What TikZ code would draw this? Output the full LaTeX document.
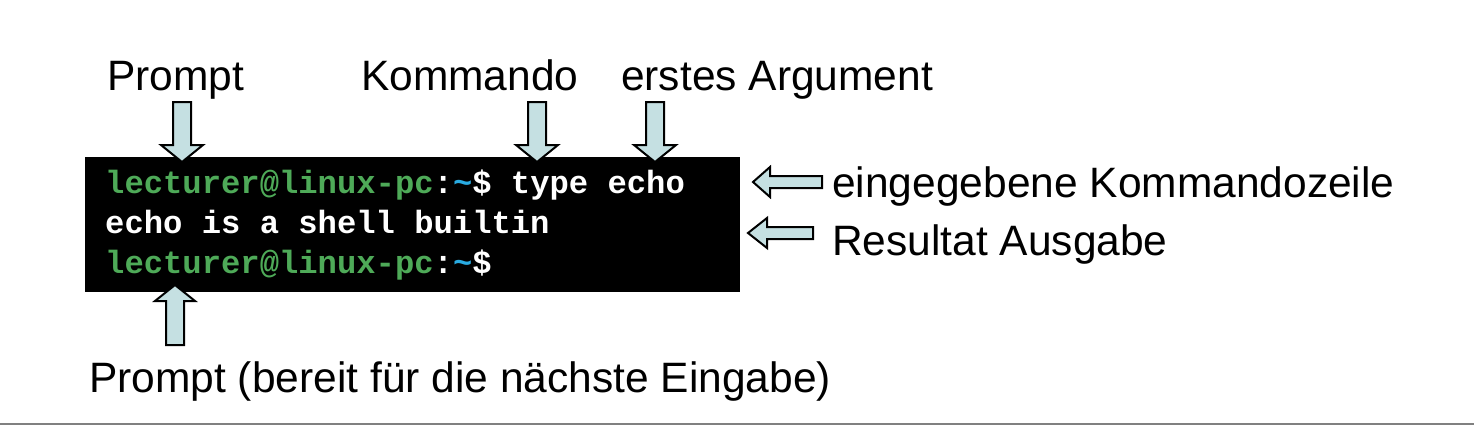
\documentclass[tikz,border=0pt]{standalone}
\usepackage{fontspec}
\setmainfont{Liberation Sans}
\newfontfamily\termfont{Liberation Mono}
\definecolor{termgreen}{RGB}{78,170,88}
\definecolor{termblue}{RGB}{41,171,226}
\definecolor{arrowfill}{RGB}{197,224,226}
\definecolor{rulegray}{RGB}{128,128,128}
\begin{document}
\begin{tikzpicture}[x=1pt,y=-1pt,
  label/.style={anchor=base west,inner sep=0pt,font=\fontsize{42.5}{50}\selectfont},
  termline/.style={anchor=base west,inner sep=0pt,text=white,font=\termfont\bfseries\fontsize{32.2}{40}\selectfont},
  blockarrow/.style={draw=black,fill=arrowfill,line width=2pt,line join=miter}]
\useasboundingbox (0,0) rectangle (1474,426);
\fill[white] (0,0) rectangle (1474,426);
% terminal
\node[fill=black,inner sep=0pt,minimum width=655pt,minimum height=135pt,anchor=north west] (term) at (85,157) {};
\node[termline] (l1) at (105,193) {\textcolor{termgreen}{lecturer@linux-pc}:\textcolor{termblue}{\char`\~}\$ type echo};
\node[termline] (l2) at (105,233) {echo is a shell builtin};
\node[termline] (l3) at (105,273) {\textcolor{termgreen}{lecturer@linux-pc}:\textcolor{termblue}{\char`\~}\$};
% labels
\node[label] (prompt) at (107,90) {Prompt};
\node[label] (kommando) at (361,90) {Kommando};
\node[label] (arg) at (621,90) {erstes Argument};
\node[label] (zeile) at (832,197) {eingegebene Kommandozeile};
\node[label] (result) at (832,255) {Resultat Ausgabe};
\node[label] (prompt2) at (89,392) {Prompt (bereit für die nächste Eingabe)};
% down arrows
\foreach \cx in {182,537,655}{
  \draw[blockarrow] (\cx-9,102) -- (\cx+9,102) -- (\cx+9,145) -- (\cx+21,145) -- (\cx,162) -- (\cx-21,145) -- (\cx-9,145) -- cycle;
}
% up arrow
\draw[blockarrow] (175-9,345) -- (175+9,345) -- (175+9,301) -- (175+20,301) -- (175,285) -- (175-20,301) -- (175-9,301) -- cycle;
% left arrows
\draw[blockarrow] (822,176) -- (770,176) -- (770,167) -- (753,182) -- (770,197) -- (770,188) -- (822,188) -- cycle;
\draw[blockarrow] (813,227) -- (767,227) -- (767,218) -- (748,233) -- (767,248) -- (767,239) -- (813,239) -- cycle;
% bottom rule
\draw[rulegray,line width=2pt] (0,424) -- (1474,424);
\end{tikzpicture}
\end{document}
